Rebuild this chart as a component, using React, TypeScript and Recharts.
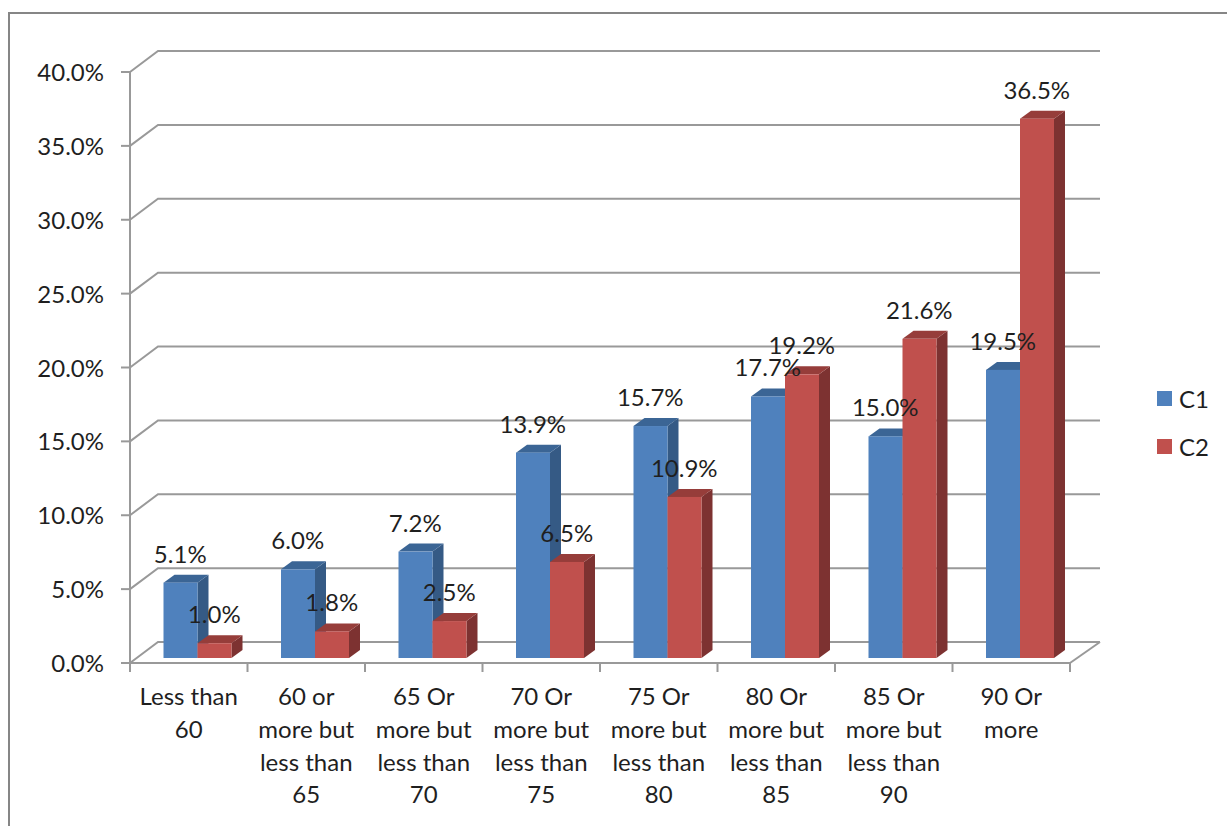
import React from "react";
import { ComposedChart, Bar, Line, XAxis, YAxis, CartesianGrid, Legend, LabelList } from "recharts";

const categories = [
  "Less than\n60",
  "60 or\nmore but\nless than\n65",
  "65 Or\nmore but\nless than\n70",
  "70 Or\nmore but\nless than\n75",
  "75 Or\nmore but\nless than\n80",
  "80 Or\nmore but\nless than\n85",
  "85 Or\nmore but\nless than\n90",
  "90 Or\nmore",
];
const c1Values = [5.1, 6.0, 7.2, 13.9, 15.7, 17.7, 15.0, 19.5];
const c2Values = [1.0, 1.8, 2.5, 6.5, 10.9, 19.2, 21.6, 36.5];
const yTicks = [0, 5, 10, 15, 20, 25, 30, 35, 40];
const seriesNames = ["C1", "C2"];

const data = categories.map((name, i) => ({ name, c1: c1Values[i], c2: c2Values[i] }));

const FONT = "Lato, sans-serif";
const FS = 24;
const TXT = "#1f1f1f";
const AXIS = "#999999";
const PLOT_BOTTOM = 663;

const BLUE = { front: "#4F81BD", side: "#355A85", top: "#3B6595" };
const RED = { front: "#C0504D", side: "#7D3231", top: "#963D3A" };

const DX = 8.5, DY = -5, DEPTH_X = 11, DEPTH_Y = 8, BAR_W = 34;

const box3d = (c: typeof BLUE) => (props: any) => {
  const { x, y, width, height } = props;
  const l = x + DX, t = y + DY, r = l + width, b = t + height;
  return (
    <g>
      <path d={`M${r} ${t}L${r + DEPTH_X} ${t - DEPTH_Y}L${r + DEPTH_X} ${b - DEPTH_Y}L${r} ${b}Z`} fill={c.side} />
      <path d={`M${l} ${t}L${l + DEPTH_X} ${t - DEPTH_Y}L${r + DEPTH_X} ${t - DEPTH_Y}L${r} ${t}Z`} fill={c.top} />
      <rect x={l} y={t} width={width} height={height} fill={c.front} />
    </g>
  );
};

const gridLine = (props: any) => {
  const { x1, x2, y1 } = props;
  const bx = 28, by = 21;
  return (
    <g>
      <path d={`M${x1} ${y1}L${x1 + bx} ${y1 - by}L${x2 + 30} ${y1 - by}`} fill="none" stroke={AXIS} strokeWidth={2} />
      {y1 >= PLOT_BOTTOM - 1 && (
        <path d={`M${x2} ${y1}L${x2 + 30} ${y1 - by}`} fill="none" stroke={AXIS} strokeWidth={2} />
      )}
    </g>
  );
};

const XTick = (props: any) => {
  const { x, payload, index } = props;
  const band = 117.5;
  const lines = String(payload.value).split("\n");
  const top = PLOT_BOTTOM;
  return (
    <g>
      <line x1={x - band / 2} x2={x - band / 2} y1={top} y2={top + 9} stroke={AXIS} strokeWidth={2} />
      {index === categories.length - 1 && (
        <line x1={x + band / 2} x2={x + band / 2} y1={top} y2={top + 9} stroke={AXIS} strokeWidth={2} />
      )}
      {lines.map((ln, i) => (
        <text key={i} x={x} y={top + 42 + i * 32.8} textAnchor="middle" fontFamily={FONT} fontSize={FS} fill={TXT}>
          {ln}
        </text>
      ))}
    </g>
  );
};

const YTick = (props: any) => {
  const { x, y, payload } = props;
  return (
    <text x={x} y={y + 9} textAnchor="end" fontFamily={FONT} fontSize={FS} fill={TXT}>
      {payload.value.toFixed(1)}%
    </text>
  );
};

const valueLabel = (shift: number) => (props: any) => {
  const { x, y, value } = props;
  return (
    <text x={x + shift + DX} y={y + DY - 20} textAnchor="middle" fontFamily={FONT} fontSize={FS} fill={TXT}>
      {Number(value).toFixed(1)}%
    </text>
  );
};

const LegendBox = () => (
  <div style={{ fontFamily: FONT, fontSize: FS, color: TXT }}>
    {seriesNames.map((n, i) => (
      <div key={n} style={{ position: "absolute", left: 0, top: i * 48.5, height: 30, display: "flex", alignItems: "center" }}>
        <span style={{ display: "inline-block", width: 15, height: 15, background: i === 0 ? BLUE.front : RED.front, marginRight: 7 }} />
        <span>{n}</span>
      </div>
    ))}
  </div>
);

export default function App() {
  return (
    <div style={{ position: "absolute", left: 0, top: 0, width: 1227, height: 826, overflow: "hidden", background: "#fff" }}>
      <div style={{ position: "absolute", left: 8, top: 12, right: -4, bottom: -4, border: "2px solid #868686" }} />
      <ComposedChart
        width={1227}
        height={826}
        data={data}
        barSize={BAR_W}
        barGap={0}
        margin={{ left: 30, right: 87, top: 72, bottom: 63 }}
        style={{ position: "absolute", left: 0, top: 0 }}
      >
        <CartesianGrid vertical={false} horizontal={gridLine} />
        <XAxis dataKey="name" interval={0} height={100} tickLine={false} axisLine={{ stroke: AXIS, strokeWidth: 2 }} tick={XTick} />
        <YAxis
          width={100}
          domain={[0, 40]}
          ticks={yTicks}
          interval={0}
          tickSize={9}
          tickMargin={17}
          tickLine={{ stroke: AXIS, strokeWidth: 2 }}
          axisLine={{ stroke: AXIS, strokeWidth: 2 }}
          tick={YTick}
        />
        <Legend layout="horizontal" verticalAlign="middle" align="right" content={LegendBox} wrapperStyle={{ left: 1157, top: 383, right: "auto", bottom: "auto", width: 70 }} />
        <Bar dataKey="c1" name="C1" fill={BLUE.front} shape={box3d(BLUE)} isAnimationActive={false} />
        <Bar dataKey="c2" name="C2" fill={RED.front} shape={box3d(RED)} isAnimationActive={false} />
        <Line dataKey="c1" stroke="none" dot={false} activeDot={false} legendType="none" isAnimationActive={false}>
          <LabelList dataKey="c1" content={valueLabel(-BAR_W / 2)} />
        </Line>
        <Line dataKey="c2" stroke="none" dot={false} activeDot={false} legendType="none" isAnimationActive={false}>
          <LabelList dataKey="c2" content={valueLabel(BAR_W / 2)} />
        </Line>
      </ComposedChart>
    </div>
  );
}
